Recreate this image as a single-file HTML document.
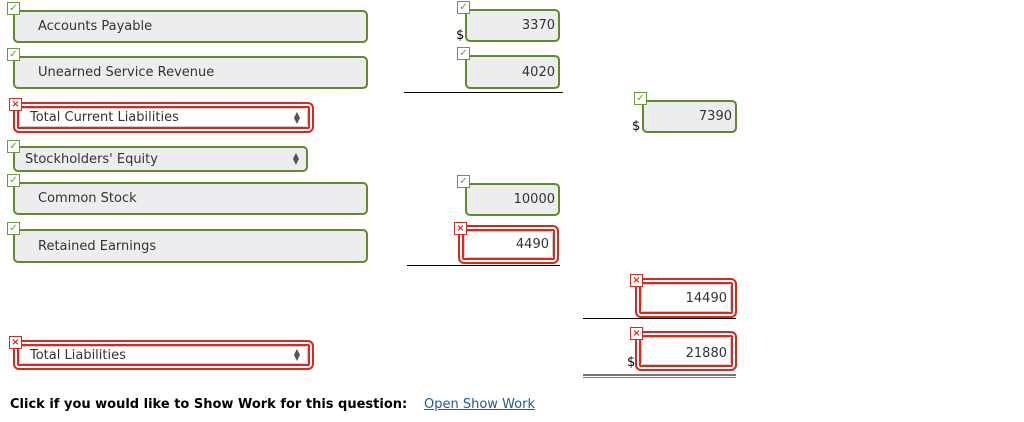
<!DOCTYPE html>
<html><head><style>
body{margin:0;width:1024px;height:422px;background:#fff;position:relative;font-family:"DejaVu Sans","Liberation Sans",sans-serif;overflow:hidden}
.a{position:absolute;box-sizing:border-box}
.g{border:2px solid #5f8a2e;border-radius:5px;background:#ebedef;font-size:13px;color:#333;display:flex;align-items:center}
.r{border:2px solid #d9281e;border-radius:6px;background:#fff;box-shadow:inset 0 0 0 2px #fff,inset 0 0 0 4px #d9281e;padding:5px;}
.ri{position:absolute;left:5px;right:5px;top:5px;bottom:5px;border:1px solid #ccc;border-radius:3px;background:#fff;font-size:13px;color:#333;display:flex;align-items:center}
.num{justify-content:flex-end;padding-right:3px}
.ic{position:absolute;width:13px;height:13px;box-sizing:border-box;background:#fff;font-size:10px;line-height:11px;text-align:center;font-weight:bold}
.ok{border:1px solid #6a9a3a;color:#6a9a3a}
.x{border:1px solid #d9281e;color:#d9281e}
.arr{position:absolute;right:7px;top:50%;transform:translateY(-50%);font-size:8px;line-height:6px;color:#555;text-align:center}
.d{position:absolute;font-size:13px;color:#000}
.ln{position:absolute;height:1px;background:#000}
</style></head><body>
<div class="a g" style="left:13px;top:10px;width:355px;height:33px;padding-left:23px">Accounts Payable</div>
<div class="ic ok" style="left:7px;top:2px">✓</div>
<div class="a g" style="left:13px;top:56px;width:355px;height:33px;padding-left:23px">Unearned Service Revenue</div>
<div class="ic ok" style="left:7px;top:48px">✓</div>
<div class="a r" style="left:13px;top:102px;width:301px;height:31px"><div class="ri" style="left:4px;right:4px;top:4px;bottom:4px;padding-left:10px">Total Current Liabilities<div class="arr">▲<br>▼</div></div></div>
<div class="ic x" style="left:9px;top:98px">×</div>
<div class="a g" style="left:13px;top:146px;width:295px;height:26px;padding-left:10px">Stockholders' Equity<div class="arr">▲<br>▼</div></div>
<div class="ic ok" style="left:7px;top:140px">✓</div>
<div class="a g" style="left:13px;top:182px;width:355px;height:33px;padding-left:23px">Common Stock</div>
<div class="ic ok" style="left:7px;top:174px">✓</div>
<div class="a g" style="left:13px;top:229px;width:355px;height:34px;padding-left:23px">Retained Earnings</div>
<div class="ic ok" style="left:7px;top:222px">✓</div>
<div class="a r" style="left:13px;top:340px;width:301px;height:30px"><div class="ri" style="left:4px;right:4px;top:4px;bottom:4px;padding-left:10px">Total Liabilities<div class="arr">▲<br>▼</div></div></div>
<div class="ic x" style="left:9px;top:336px">×</div>
<div class="a g num" style="left:465px;top:9px;width:95px;height:33px">3370</div>
<div class="ic ok" style="left:457px;top:1px">✓</div>
<div class="d" style="left:456px;top:28px">$</div>
<div class="a g num" style="left:465px;top:55px;width:95px;height:34px">4020</div>
<div class="ic ok" style="left:457px;top:47px">✓</div>
<div class="ln" style="left:404px;top:92px;width:159px"></div>
<div class="a g num" style="left:642px;top:100px;width:95px;height:33px;align-items:flex-start;padding-top:7px">7390</div>
<div class="ic ok" style="left:634px;top:92px">✓</div>
<div class="d" style="left:632px;top:119px">$</div>
<div class="a g num" style="left:465px;top:183px;width:95px;height:33px">10000</div>
<div class="ic ok" style="left:457px;top:175px">✓</div>
<div class="a r" style="left:458px;top:225px;width:101px;height:39px"><div class="ri num" style="left:4px;right:4px;top:4px;bottom:4px">4490</div></div>
<div class="ic x" style="left:454px;top:222px">×</div>
<div class="ln" style="left:407px;top:265px;width:153px"></div>
<div class="a r" style="left:635px;top:278px;width:102px;height:40px"><div class="ri num" style="left:4px;right:4px;top:4px;bottom:4px">14490</div></div>
<div class="ic x" style="left:630px;top:274px">×</div>
<div class="ln" style="left:583px;top:318px;width:153px"></div>
<div class="a r" style="left:635px;top:331px;width:102px;height:40px"><div class="ri num" style="left:4px;right:4px;top:4px;bottom:4px;align-items:flex-start;padding-top:8px">21880</div></div>
<div class="ic x" style="left:630px;top:327px">×</div>
<div class="d" style="left:627px;top:355px">$</div>
<div class="a" style="left:583px;top:374px;width:153px;height:4px;border-top:2px solid #777;border-bottom:1px solid #777"></div>
<div class="d" style="left:10px;top:397px;font-weight:bold;font-size:13px">Click if you would like to Show Work for this question:</div>
<div class="d" style="left:424px;top:397px;color:#1a5a96;text-decoration:underline;font-size:13px">Open Show Work</div>
</body></html>
